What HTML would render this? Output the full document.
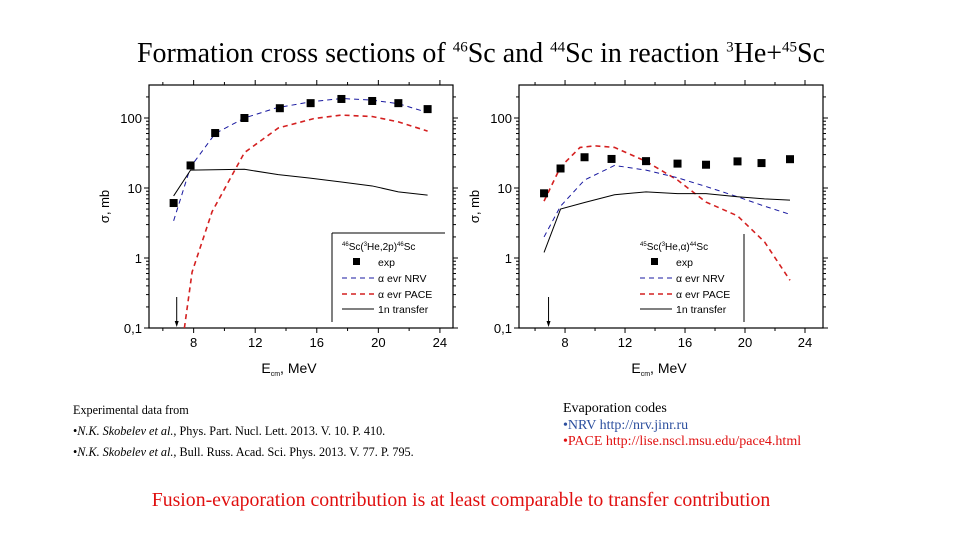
<!DOCTYPE html>
<html><head><meta charset="utf-8">
<style>
body{margin:0;background:#fff;}
#root{position:relative;width:960px;height:540px;overflow:hidden;font-family:"Liberation Sans",sans-serif;}
.serif{font-family:"Liberation Serif",serif;}
</style></head>
<body>
<div id="root">
<div class="serif" style="position:absolute;left:0;width:962px;top:38px;text-align:center;font-size:28px;color:#000;white-space:nowrap;">Formation cross sections of <sup style="font-size:15px">46</sup>Sc and <sup style="font-size:15px">44</sup>Sc in reaction <sup style="font-size:15px">3</sup>He+<sup style="font-size:15px">45</sup>Sc</div>
<svg id="chart" width="960" height="540" style="position:absolute;left:0;top:0;" xmlns="http://www.w3.org/2000/svg"></svg>
<div class="serif" style="position:absolute;left:73px;top:400px;font-size:12.2px;line-height:21px;color:#000;white-space:nowrap;">
<div>Experimental data from</div>
<div>•<i>N.K. Skobelev et al.</i>, Phys. Part. Nucl. Lett. 2013. V. 10. P. 410.</div>
<div>•<i>N.K. Skobelev et al.</i>, Bull. Russ. Acad. Sci. Phys. 2013. V. 77. P. 795.</div>
</div>
<div class="serif" style="position:absolute;left:563px;top:401px;font-size:14px;line-height:16.5px;white-space:nowrap;">
<div style="color:#000">Evaporation codes</div>
<div style="color:#2c4f9e">•NRV http://nrv.jinr.ru</div>
<div style="color:#e01010">•PACE http://lise.nscl.msu.edu/pace4.html</div>
</div>
<div class="serif" style="position:absolute;left:0;width:922px;top:489px;text-align:center;font-size:19.8px;color:#e01010;white-space:nowrap;">Fusion-evaporation contribution is at least comparable to transfer contribution</div>
</div>
<script>
// Left panel: 46Sc(3He,2p)46Sc
const leftExpE = [6.7,7.8,9.4,11.3,13.6,15.6,17.6,19.6,21.3,23.2];
const leftExp = [6.1,21,61,100,138,163,187,175,163,134];
const leftNrvE = [6.7,7.8,9.4,11.3,13.4,15.6,17.6,19.6,21.3,23.2];
const leftNrv = [3.4,20,60,100,140,170,190,180,160,120];
const leftPaceE = [7.4,7.9,9.2,11.3,13.5,15.8,17.6,19.6,21.3,23.2];
const leftPace = [0.1,0.63,4.6,32,72,98,110,105,88,65];
const leftTrE = [6.7,7.8,11.3,13.5,15.5,17.6,19.6,21.3,23.2];
const leftTr = [7.7,18,18.5,15.5,13.9,12.2,10.7,8.8,7.9];
// Right panel: 45Sc(3He,a)44Sc
const rightExpE = [6.6,7.7,9.3,11.1,13.4,15.5,17.4,19.5,21.1,23.0];
const rightExp = [8.4,19,27.5,26,24.2,22.3,21.5,24,22.7,25.8];
const rightNrvE = [6.6,7.7,9.3,11.3,13.4,15.5,17.4,19.5,21.3,23.0];
const rightNrv = [2.0,5.5,13,21,18,14,10.5,7.5,5.5,4.2];
const rightPaceE = [6.6,7.7,9.0,10,11.3,13.4,15.5,17.4,19.5,21.3,23.0];
const rightPace = [6.5,20,38,40,38,24,13,6.3,4,1.7,0.48];
const rightTrE = [6.6,7.7,9.3,11.3,13.4,15.5,17.4,19.5,21.3,23.0];
const rightTr = [1.2,5,6.2,8,8.8,8.3,8.3,7.5,7,6.7];
const xTicks = [8,12,16,20,24];
const yTicks = [0.1,1,10,100];
const yTickLabels = ["0,1","1","10","100"];

const svg = document.getElementById('chart');
const NS = 'http://www.w3.org/2000/svg';
function mk(tag, attrs, parent){ const e=document.createElementNS(NS,tag); for(const k in attrs) e.setAttribute(k,attrs[k]); (parent||svg).appendChild(e); return e; }

function panel(cfg){
  const g = mk('g',{});
  
  
  const L=cfg.left, R=cfg.right, T=85, B=328;
  const xs = e => L + (e - cfg.xmin) * (R - L) / (cfg.xmax - cfg.xmin);
  const ys = v => 118 + (2 - Math.log10(v)) * 70;
  const frame = mk('rect',{x:L,y:T,width:R-L,height:B-T,fill:'none',stroke:'#000','stroke-width':1.2},g);
  
  
  for(let e=6;e<=24;e+=2){
    const major = e%4===0, len = major?5:3, x=xs(e);
    mk('line',{x1:x,y1:B,x2:x,y2:B+len,stroke:'#000'},g);
    mk('line',{x1:x,y1:T,x2:x,y2:T-len,stroke:'#000'},g);
  }
  xTicks.forEach(t=>{
    const tx = mk('text',{x:xs(t),y:B+19,'text-anchor':'middle','font-size':13,fill:'#000'},g);
    tx.textContent = t;
    
    
  });
  for(let d=-1; d<=2; d++){
    for(let m=1;m<=9;m++){
      const v=m*Math.pow(10,d); const y=ys(v);
      if(y<T) continue;
      const len = m===1?5:3;
      mk('line',{x1:L,y1:y,x2:L-len,y2:y,stroke:'#000'},g);
      mk('line',{x1:R,y1:y,x2:R+len,y2:y,stroke:'#000'},g);
    }
  }
  yTicks.forEach((t,i)=>{
    const tx = mk('text',{x:L-7,y:ys(t)+5,'text-anchor':'end','font-size':13,fill:'#000'},g);
    tx.textContent = yTickLabels[i];
    
    
  });
  const yt = mk('text',{x:0,y:0,'font-size':13,'text-anchor':'middle',transform:`translate(${L-40},${(T+B)/2}) rotate(-90)`},g);
  yt.textContent = 'σ, mb';
  
  
  const xt = mk('text',{x:(L+R)/2-12,y:B+45,'font-size':14,'text-anchor':'middle'},g);
  xt.innerHTML = 'E<tspan font-size="7" dy="3">cm</tspan><tspan dy="-3">, MeV</tspan>';
  
  
  const line = (E,V,color,dash,w,name)=>{
    const p = mk('polyline',{points:E.map((e,i)=>xs(e)+','+ys(V[i])).join(' '),fill:'none',stroke:color,'stroke-width':w,'stroke-dasharray':dash},g);
    
    
  };
  line(cfg.paceE,cfg.pace,'#d42020','5 4',1.6,'pace-series');
  line(cfg.nrvE,cfg.nrv,'#1a1aa0','5 4',1,'nrv-series');
  line(cfg.trE,cfg.tr,'#000','',1,'transfer-series');
  cfg.expE.forEach((e,i)=>{
    const r = mk('rect',{x:xs(e)-4,y:ys(cfg.exp[i])-4,width:8,height:8,fill:'#000'},g);
    
    
  });
  const ax = xs(cfg.arrowE);
  mk('line',{x1:ax,y1:297,x2:ax,y2:325,stroke:'#000'},g);
  mk('polygon',{points:`${ax-2},321 ${ax+2},321 ${ax},327`,fill:'#000'},g);
  const lg = mk('g',{},g);
  
  
  const lx = cfg.legX;
  if(cfg.box){ mk('line',{x1:lx,y1:233,x2:R-8,y2:233,stroke:'#000'},lg); mk('line',{x1:lx,y1:233,x2:lx,y2:322,stroke:'#000'},lg); }
  else { mk('line',{x1:cfg.vline,y1:234,x2:cfg.vline,y2:322,stroke:'#000'},lg); }
  const tt = mk('text',{x:lx+10,y:250,'font-size':10},lg);
  tt.innerHTML = cfg.legTitle;
  mk('rect',{x:lx+21,y:258,width:7,height:7,fill:'#000'},lg);
  const items=[['exp',266],['α evr NRV',282],['α evr PACE',298],['1n transfer',313]];
  const st=[null,['#1a1aa0','5 4',1],['#d42020','5 4',1.6],['#000','',1]];
  items.forEach((it,i)=>{
    if(st[i]) mk('line',{x1:lx+10,y1:it[1]-4,x2:lx+42,y2:it[1]-4,stroke:st[i][0],'stroke-dasharray':st[i][1],'stroke-width':st[i][2]},lg);
    const t=mk('text',{x:lx+46,y:it[1],'font-size':10.5,fill:'#000'},lg);
    t.textContent=it[0];
    
    
  });
}
panel({name:'left-chart',left:149,right:453,xmin:5.1,xmax:24.85,expE:leftExpE,exp:leftExp,nrvE:leftNrvE,nrv:leftNrv,paceE:leftPaceE,pace:leftPace,trE:leftTrE,tr:leftTr,arrowE:6.9,legX:332,box:true,legTitle:'<tspan font-size="6" dy="-4">46</tspan><tspan dy="4">Sc(</tspan><tspan font-size="6" dy="-4">3</tspan><tspan dy="4">He,2p)</tspan><tspan font-size="6" dy="-4">46</tspan><tspan dy="4">Sc</tspan>'});
panel({name:'right-chart',left:519,right:823,xmin:4.93,xmax:25.2,expE:rightExpE,exp:rightExp,nrvE:rightNrvE,nrv:rightNrv,paceE:rightPaceE,pace:rightPace,trE:rightTrE,tr:rightTr,arrowE:6.9,legX:630,box:false,vline:744,legTitle:'<tspan font-size="6" dy="-4">45</tspan><tspan dy="4">Sc(</tspan><tspan font-size="6" dy="-4">3</tspan><tspan dy="4">He,α)</tspan><tspan font-size="6" dy="-4">44</tspan><tspan dy="4">Sc</tspan>'});
</script>
</body></html>
